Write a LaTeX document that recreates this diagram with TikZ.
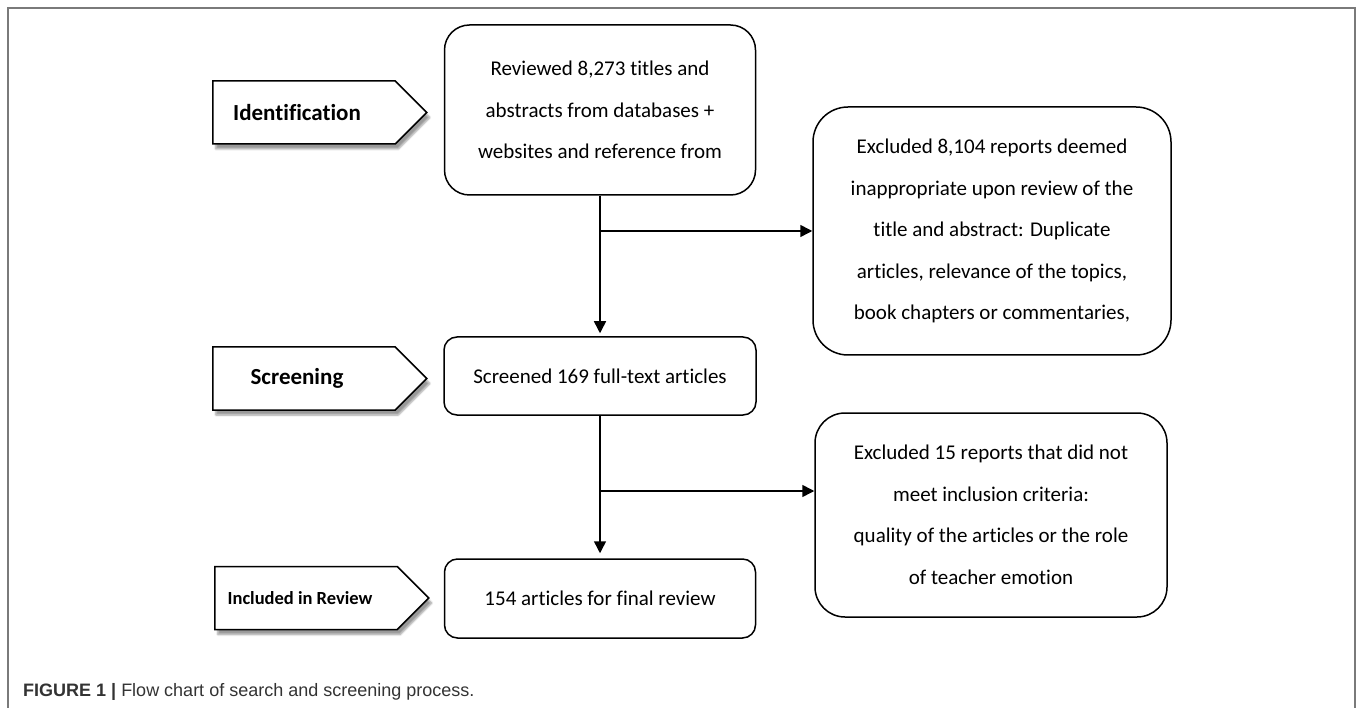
\documentclass[tikz,border=0pt]{standalone}
\usepackage{fontspec}
\setmainfont{Carlito}[Ligatures=NoCommon]
\newfontfamily\capfont{Liberation Sans}
\usetikzlibrary{shapes.symbols, arrows.meta, shadows.blur}
\definecolor{framegray}{HTML}{7A7A7A}
\definecolor{capgray}{HTML}{333333}

\tikzset{
  % stage labels on the left
  stage/.style={signal, signal to=east, signal pointer angle=90, draw, line width=1.5pt,
    fill=white, minimum width=214, minimum height=63, inner sep=0pt,
    blur shadow={shadow xshift=3pt, shadow yshift=-5pt, shadow blur steps=6, shadow opacity=40}},
  % boxes of the flow
  flowbox/.style={draw, line width=1.5pt, align=center, inner sep=0pt,
    font=\fontsize{21}{41.5}\selectfont},
  flowarrow/.style={line width=1.5pt, -{Triangle[length=12pt, width=12pt]}}
}

\begin{document}
\begin{tikzpicture}[x=1pt, y=-1pt]
  \useasboundingbox (0,0) rectangle (1357,708);
  \draw[framegray, line width=1.5pt] (8,708) -- (8,8) -- (1355,8) -- (1355,708);

  % Stages
  \node[stage, font=\bfseries\fontsize{23}{26}\selectfont] (ident) at (304,112.5) {Identification\hspace*{14pt}};
  \node[stage, font=\bfseries\fontsize{23}{26}\selectfont] (screen) at (304,378.5) {Screening\hspace*{14pt}};
  \node[stage, font=\bfseries\fontsize{18.5}{21}\selectfont] (incl) at (306,598) {Included in Review\hspace*{12pt}};

  % Main flow
  \node[flowbox, rounded corners=25, minimum width=311, minimum height=170] (rev) at (600,110)
    {Reviewed 8,273 titles and\\abstracts from databases +\\websites and reference from};
  \node[flowbox, rounded corners=13, minimum width=312, minimum height=78] (scr) at (600,376)
    {Screened 169 full-text articles};
  \node[flowbox, rounded corners=13, minimum width=311, minimum height=79] (fin) at (600,598.5)
    {154 articles for final review};

  % Exclusions
  \node[flowbox, rounded corners=35, minimum width=358, minimum height=248] (exc1) at (992,231)
    {Excluded 8,104 reports deemed\\inappropriate upon review of the\\title and abstract: Duplicate\\articles, relevance of the topics,\\book chapters or commentaries,};
  \node[flowbox, rounded corners=30, minimum width=352, minimum height=204] (exc2) at (991,515)
    {Excluded 15 reports that did not\\meet inclusion criteria:\\quality of the articles or the role\\of teacher emotion};

  % Connectors
  \draw[flowarrow, shorten >=3pt] (rev.south) -- (scr.north);
  \draw[flowarrow] (rev.south |- exc1.west) -- (exc1.west);
  \draw[flowarrow, shorten >=5pt] (scr.south) -- (fin.north);
  \coordinate (split2) at (600,491);
  \draw[flowarrow] (split2) -- (split2 -| exc2.west);

  % Caption
  \node[anchor=base west, inner sep=0pt, text=capgray, font=\capfont\fontsize{18}{20}\selectfont] (cap) at (23,696)
    {\textbf{FIGURE 1 |} Flow chart of search and screening process.};
\end{tikzpicture}
\end{document}
